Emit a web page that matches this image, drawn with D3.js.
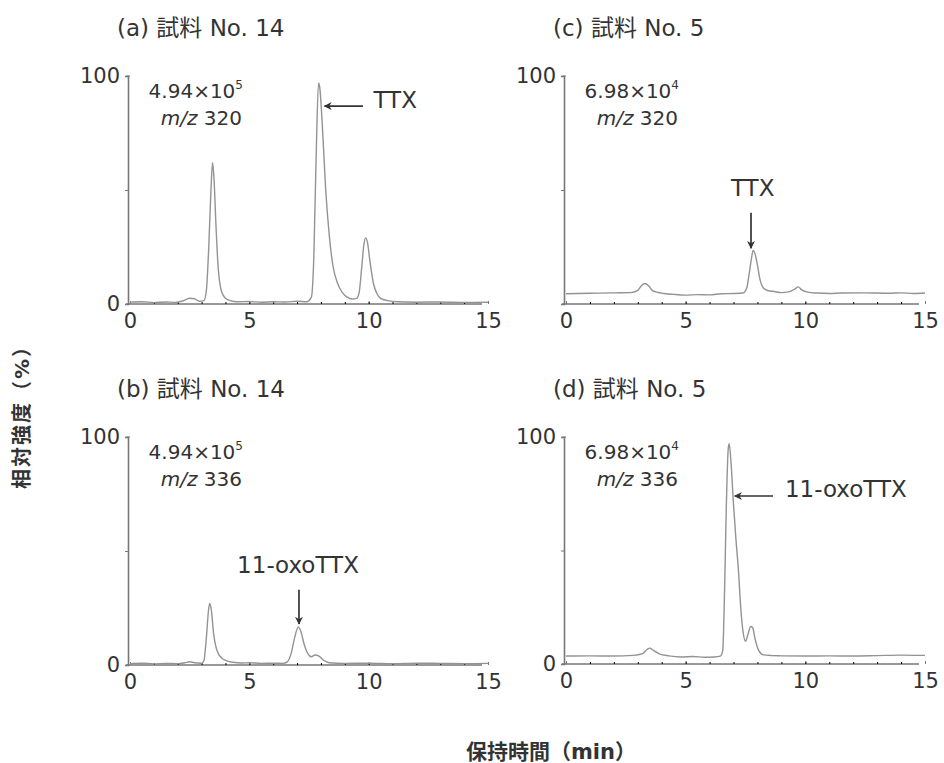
<!DOCTYPE html>
<html>
<head>
<meta charset="utf-8">
<script src="https://cdn.jsdelivr.net/npm/d3@7"></script>
<style>
  body { margin: 0; background: #fff; }
  text { font-family: "DejaVu Sans", "Noto Sans CJK JP", sans-serif; fill: #333; }
</style>
</head>
<body>
<svg id="chart" width="944" height="763"></svg>
<script>
// chromatogram traces, [retention time (min), relative intensity (%)]
const traceA = [[0,0.8],[0.5,1],[1,0.6],[1.5,0.9],[1.9,0.7],[2.2,1.3],[2.5,2.5],[2.7,2.3],[2.9,1.2],[3.1,1.5],
  [3.2,6],[3.3,25],[3.4,52],[3.46,62],[3.52,55],[3.6,35],[3.7,15],[3.8,7],[3.9,4],[4.0,2.5],[4.2,1.5],[4.5,1],
  [5,1.1],[5.5,0.8],[6,1],[6.5,0.9],[7,1.2],[7.4,1],[7.6,3],[7.7,20],[7.8,65],[7.9,97],[7.95,95],[8.05,80],
  [8.2,50],[8.35,30],[8.5,17],[8.7,9],[8.9,5],[9.1,3],[9.3,2.2],[9.5,2.5],[9.6,5],[9.7,15],[9.8,26],[9.87,29],
  [9.95,27],[10.05,19],[10.2,9],[10.35,4.5],[10.5,2.5],[10.8,1.5],[11.2,1],[12,0.8],[13,0.9],[14,0.7],[15,0.8]];
const traceB = [[0,0.6],[0.5,0.8],[1,0.5],[1.5,0.7],[2,0.6],[2.3,1],[2.5,1.4],[2.7,1],[3.0,0.8],[3.1,2],
  [3.2,12],[3.3,25],[3.35,27],[3.42,23],[3.5,14],[3.6,8],[3.7,5],[3.85,3],[4.0,2],[4.3,1.2],[4.7,0.9],[5,1],
  [5.5,0.7],[6,0.8],[6.4,0.7],[6.6,1.5],[6.75,5],[6.9,12],[7.05,16.7],[7.15,15],[7.3,9],[7.45,5],[7.6,3.6],
  [7.75,4.4],[7.9,4],[8.1,2.2],[8.35,1],[9,0.7],[10,0.8],[11,0.6],[12,0.8],[13,0.7],[14,0.6],[15,0.7]];
const traceC = [[0,4.5],[1,4.7],[2,4.9],[2.7,5],[3.0,6],[3.15,8],[3.3,9],[3.45,8],[3.6,6],[3.8,5.2],[4.1,4.6],
  [4.5,4.2],[5,3.9],[5.5,4.1],[6,4.0],[6.5,4.5],[7,4.6],[7.4,4.8],[7.55,7],[7.65,13],[7.75,20],[7.82,23.5],
  [7.9,22],[8.0,17],[8.1,11],[8.25,7],[8.45,5.8],[8.7,5.5],[9.0,5],[9.3,5.3],[9.55,6.5],[9.7,7.5],[9.85,6.2],
  [10.1,5.2],[10.5,4.8],[11,4.6],[11.5,4.8],[12.5,4.9],[13.5,4.7],[14,4.9],[14.5,4.6],[15,4.8]];
const traceD = [[0,3.5],[1,3.6],[2,3.5],[2.8,3.8],[3.2,4.6],[3.4,6.5],[3.5,7],[3.65,6],[3.9,4.5],[4.3,3.6],
  [4.8,3.1],[5.3,3.3],[5.8,3.0],[6.2,3.1],[6.45,3.5],[6.55,6],[6.62,30],[6.7,70],[6.78,95],[6.82,97],[6.9,88],
  [7.0,70],[7.1,55],[7.2,42],[7.3,25],[7.4,14],[7.5,10],[7.6,13],[7.72,16.5],[7.8,16],[7.9,11],[8.05,6],
  [8.25,4],[8.6,3.7],[9,3.6],[10,3.5],[11,3.6],[12,3.5],[13,3.7],[14,3.9],[15,3.8]];

const panelTitles = ["(a) 試料 No. 14", "(b) 試料 No. 14", "(c) 試料 No. 5", "(d) 試料 No. 5"];
const intensities = [["4.94×10", "5"], ["4.94×10", "5"], ["6.98×10", "4"], ["6.98×10", "4"]];
const mzValues = ["320", "336", "320", "336"];
const xTicks = [0, 5, 10, 15];
const yTicks = [0, 50, 100];
const yTickLabels = [["0", "100"], ["0", "100"], ["100"], ["0", "100"]];
// peak labels: text, text anchor point (t, %), arrow from, arrow to
const peakLabels = [
  {text: "TTX", at: [10.2, 89.5], anchor: "start", from: [9.76, 86.8], to: [8.15, 86.8]},
  {text: "11-oxoTTX", at: [7.04, 44], anchor: "middle", from: [7.08, 33], to: [7.08, 18]},
  {text: "TTX", at: [7.8, 51], anchor: "middle", from: [7.73, 40], to: [7.73, 24.5]},
  {text: "11-oxoTTX", at: [9.15, 77], anchor: "start", from: [8.65, 74], to: [7.05, 74]}
];

const traces = [traceA, traceB, traceC, traceD];
const layout = [
  {x0: 130, x1: 488, y0: 304, y1: 76},
  {x0: 130, x1: 488, y0: 665, y1: 437},
  {x0: 566, x1: 925, y0: 304, y1: 76},
  {x0: 566, x1: 925, y0: 664, y1: 437}
];

const svg = d3.select("#chart");

svg.append("defs").append("marker")
  .attr("id", "arrow")
  .attr("viewBox", "0 0 10 10")
  .attr("refX", 9).attr("refY", 5)
  .attr("markerWidth", 8).attr("markerHeight", 8)
  .attr("markerUnits", "userSpaceOnUse")
  .attr("orient", "auto")
  .append("path")
  .attr("d", "M0,0 L10,5 L0,10 L3,5 Z")
  .attr("fill", "#333");

traces.forEach((trace, i) => {
  const L = layout[i];
  const x = d3.scaleLinear().domain([0, 15]).range([L.x0, L.x1]);
  const y = d3.scaleLinear().domain([0, 100]).range([L.y0, L.y1]);
  const g = svg.append("g");

  // x axis
  const xAxis = g.append("g")
    .attr("transform", `translate(0,${L.y0})`)
    .call(d3.axisBottom(x).tickValues(xTicks).tickSize(-3).tickPadding(9).tickFormat(d3.format("d")));
  g.append("g")
    .attr("transform", `translate(0,${L.y0})`)
    .call(d3.axisBottom(x).tickValues(d3.range(1, 15)).tickSize(-2).tickFormat(""))
    .call(a => a.select(".domain").remove());

  // y axis
  const yAxis = g.append("g")
    .attr("transform", `translate(${L.x0 - 2},0)`)
    .call(d3.axisLeft(y).tickValues(yTicks).tickSize(3).tickPadding(5)
      .tickFormat(d => yTickLabels[i].includes(String(d)) ? d : ""));
  g.append("line")
    .attr("x1", L.x0 - 4).attr("x2", L.x0)
    .attr("y1", y(100)).attr("y2", y(100))
    .attr("stroke", "#777").attr("stroke-width", 1);

  [xAxis, yAxis].forEach(a => {
    a.select(".domain").attr("stroke", "#777").attr("stroke-width", 1.6);
    a.selectAll(".tick line").attr("stroke", "#777");
    a.selectAll(".tick text").attr("font-size", 21).attr("fill", "#333")
      .attr("font-family", "DejaVu Sans, sans-serif");
  });
  yAxis.selectAll(".tick text").attr("dy", "0.3em");
  xAxis.select(".domain").attr("d", `M${L.x0 - 4},0H${L.x1 - 6}`);

  // trace
  g.append("path")
    .datum(trace)
    .attr("d", d3.line().x(d => x(d[0])).y(d => y(d[1])).curve(d3.curveMonotoneX))
    .attr("fill", "none")
    .attr("stroke", "#939393")
    .attr("stroke-width", 1.4);

  // title
  g.append("text")
    .attr("x", L.x0 - 13).attr("y", L.y1 - 48)
    .attr("dy", "0.35em")
    .attr("font-size", 23)
    .text(panelTitles[i]);

  // intensity and m/z
  const t1 = g.append("text")
    .attr("x", L.x0 + 113).attr("y", L.y1 + 22)
    .attr("text-anchor", "end")
    .attr("font-size", 20);
  t1.append("tspan").text(intensities[i][0]);
  t1.append("tspan").attr("font-size", 12).attr("dy", -9).text(intensities[i][1]);

  const t2 = g.append("text")
    .attr("x", L.x0 + 112).attr("y", L.y1 + 49)
    .attr("text-anchor", "end")
    .attr("font-size", 20);
  t2.append("tspan").attr("font-style", "italic").text("m/z");
  t2.append("tspan").text(" " + mzValues[i]);

  // peak label and arrow
  const p = peakLabels[i];
  g.append("text")
    .attr("x", x(p.at[0])).attr("y", y(p.at[1]))
    .attr("dy", "0.35em")
    .attr("text-anchor", p.anchor)
    .attr("font-size", 23)
    .text(p.text);
  g.append("line")
    .attr("x1", x(p.from[0])).attr("y1", y(p.from[1]))
    .attr("x2", x(p.to[0])).attr("y2", y(p.to[1]))
    .attr("stroke", "#333").attr("stroke-width", 1.7)
    .attr("marker-end", "url(#arrow)");
});

// shared axis titles
svg.append("text")
  .attr("transform", "translate(22,412) rotate(-90)")
  .attr("text-anchor", "middle")
  .attr("dy", "0.35em")
  .attr("font-size", 20)
  .attr("letter-spacing", 2)
  .attr("font-weight", "bold")
  .attr("fill", "#444")
  .text("相対強度（%）");

svg.append("text")
  .attr("x", 551).attr("y", 752)
  .attr("text-anchor", "middle")
  .attr("dy", "0.35em")
  .attr("font-size", 21)
  .attr("font-weight", "bold")
  .attr("fill", "#444")
  .text("保持時間（min）");
</script>
</body>
</html>
